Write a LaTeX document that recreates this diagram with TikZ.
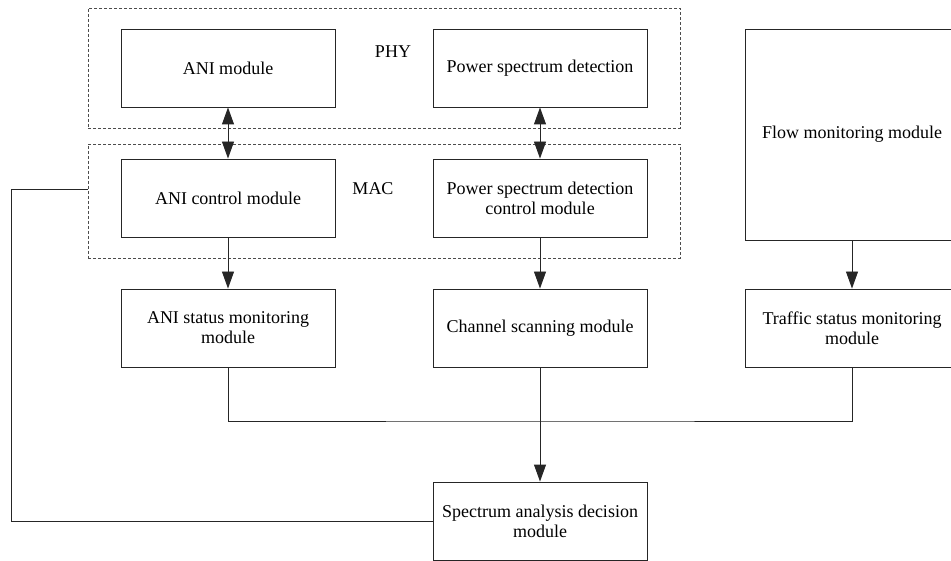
\documentclass[tikz,border=0pt]{standalone}
\usepackage{fontspec}
\setmainfont{Liberation Serif}
\usetikzlibrary{arrows.meta}
\begin{document}
\begin{tikzpicture}[x=1pt,y=-1pt,
  every node/.style={font=\fontsize{18}{20}\selectfont},
  box/.style={draw=black!85,line width=0.9pt,minimum width=214pt,minimum height=78pt,align=center,inner sep=0pt},
  layer/.style={draw=black!70,line width=0.8pt,dash pattern=on 3pt off 2pt,minimum width=592pt,inner sep=0pt},
  lbl/.style={inner sep=0pt},
  conn/.style={draw=black!85,line width=0.9pt},
  arr/.style={conn,-{Triangle[length=17pt,width=12pt]}},
  darr/.style={conn,{Triangle[length=17pt,width=12pt]}-{Triangle[length=17pt,width=12pt]}}]
\clip (0,0) rectangle (951,561);
% layers
\node[layer,minimum height=120pt] (phy) at (384,68) {};
\node[layer,minimum height=114pt] (mac) at (384,201) {};
\node[lbl] (phyl) at (393,52) {PHY};
\node[lbl] (macl) at (373,189) {MAC};
% boxes
\node[box] (ani) at (228,68) {ANI module};
\node[box] (psd) at (540,68) {Power spectrum detection};
\node[box] (anic) at (228,198) {ANI control module};
\node[box] (psdc) at (540,198) {Power spectrum detection\\control module};
\node[box,minimum height=211pt] (flow) at (852,134.5) {Flow monitoring module};
\node[box] (anis) at (228,328) {ANI status monitoring\\module};
\node[box] (chan) at (540,328) {Channel scanning module};
\node[box] (traf) at (852,328) {Traffic status monitoring\\module};
\node[box] (spec) at (540,521) {Spectrum analysis decision\\module};
% connectors
\draw[darr] (ani.south) -- (anic.north);
\draw[darr] (psd.south) -- (psdc.north);
\draw[arr] (anic.south) -- (anis.north);
\draw[arr] (psdc.south) -- (chan.north);
\draw[arr] (flow.south) -- (traf.north);
\coordinate (bus) at (540,421);
\draw[conn] (anis.south) |- (bus) -| (traf.south);
\draw[arr] (chan.south) -- (spec.north);
\coordinate (lc) at (11,189);
\draw[conn] (mac.west |- lc) -- (lc) |- (spec.west);
\end{tikzpicture}
\end{document}
